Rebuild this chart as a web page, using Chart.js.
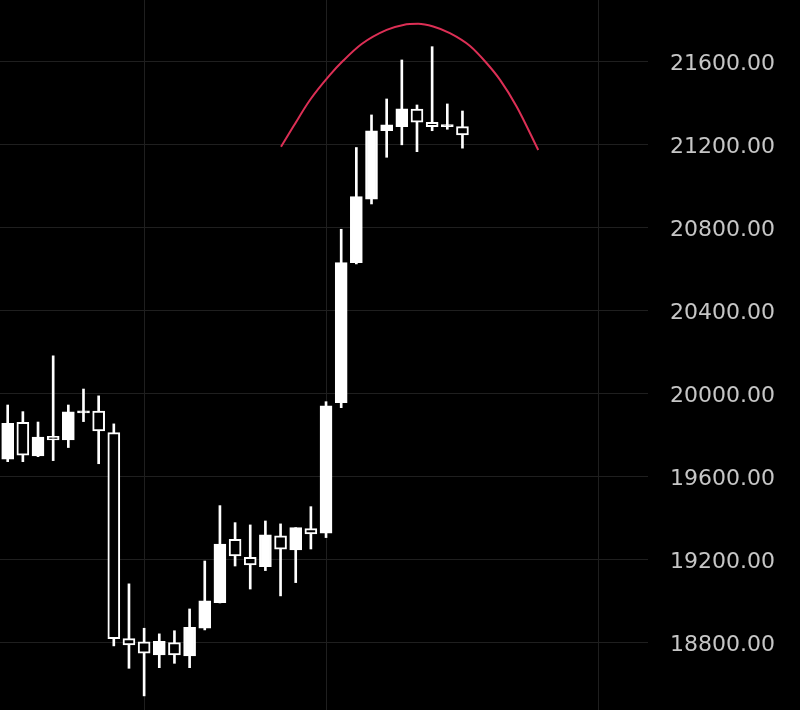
<!DOCTYPE html>
<html><head><meta charset="utf-8">
<script src="https://cdn.jsdelivr.net/npm/chart.js@4.4.1/dist/chart.umd.min.js"></script>
<style>html,body{margin:0;padding:0;background:#000;}canvas{display:block;background:#000;}</style>
</head><body>
<canvas id="c" width="800" height="710"></canvas>
<script>
// Candle index (x positions in bar units)
const candleIndex = [0,1,2,3,4,5,6,7,8,9,10,11,12,13,14,15,16,17,18,19,20,21,22,23,24,25,26,27,28,29,30];
const opens  = [19684,19862,19700,19794,19777,19907,19916,19812,18819,18804,18740,18800,18736,18869,18992,19298,19211,19166,19315,19246,19349,19327,19956,20631,20937,21267,21287,21371,21308,21287,21287];
const highs  = [19945,19913,19863,20182,19945,20022,19989,19854,19083,18869,18842,18857,18962,19193,19460,19378,19367,19386,19372,19354,19455,19961,20792,21186,21343,21420,21608,21391,21672,21396,21362];
const lows   = [19672,19672,19696,19677,19740,19865,19662,18784,18676,18543,18679,18700,18679,18861,18991,19169,19058,19147,19025,19089,19251,19306,19932,20625,20914,21139,21199,21166,21267,21274,21183];
const closes = [19857,19703,19791,19777,19912,19917,19820,18819,18789,18749,18806,18740,18874,19001,19275,19218,19174,19319,19250,19354,19324,19941,20631,20949,21267,21295,21372,21308,21287,21297,21247];

// Red arc drawing (x in candle units, y in price)
const arcX = [18.03,18.84,19.94,21.26,22.14,23.35,25.0,26.1,27.08,28.07,29.17,30.5,31.6,32.48,33.58,35.0];
const arcY = [21190,21287,21415,21536,21605,21685,21753,21777,21782,21769,21737,21675,21592,21512,21383,21174];

const yTickValues = [18800,19200,19600,20000,20400,20800,21200,21600];
const xGridValues = [9,21,39];

const wickData = candleIndex.map((x,i)=>({x:x, y:[lows[i], highs[i]]}));
const bodyData = candleIndex.map((x,i)=>({x:x, y:[opens[i], closes[i]]}));
const bodyFill = candleIndex.map((x,i)=> closes[i] >= opens[i] ? '#ffffff' : '#000000');
const arcData = arcX.map((x,i)=>({x:x, y:arcY[i]}));

new Chart(document.getElementById('c'), {
  type: 'bar',
  data: {
    datasets: [
      {type:'line', data: arcData, borderColor:'#dc2f55', borderWidth:2, pointRadius:0, tension:0.4, cubicInterpolationMode:'monotone', order:0},
      {data: bodyData, backgroundColor: bodyFill, borderColor:'#ffffff', borderWidth:2, borderSkipped:false, barThickness:12, grouped:false, order:1},
      {data: wickData, backgroundColor:'#ffffff', borderWidth:0, barThickness:2, grouped:false, order:2}
    ]
  },
  options: {
    responsive:false, animation:false, devicePixelRatio:1,
    layout:{padding:0},
    plugins:{legend:{display:false}, tooltip:{enabled:false}},
    scales:{
      x:{
        type:'linear', min:-0.508, max:42.24, offset:false,
        grid:{color:'#1f1f1f', lineWidth:1, drawTicks:false, offset:false},
        border:{display:false},
        ticks:{display:false},
        afterBuildTicks: s => { s.ticks = xGridValues.map(v=>({value:v})); }
      },
      y:{
        position:'right', min:18475, max:21897,
        grid:{color:'#1f1f1f', lineWidth:1, drawTicks:false, offset:false},
        border:{display:false},
        ticks:{padding:22, color:'#c6c6c6', font:{family:'DejaVu Sans', size:22, lineHeight:'6px'},
               callback: v => ['', Number(v).toFixed(2)]},
        afterBuildTicks: s => { s.ticks = yTickValues.map(v=>({value:v})); },
        afterFit: s => { s.width = 152; s.paddingTop = 0; s.paddingBottom = 0; }
      }
    }
  }
});
</script>
</body></html>
